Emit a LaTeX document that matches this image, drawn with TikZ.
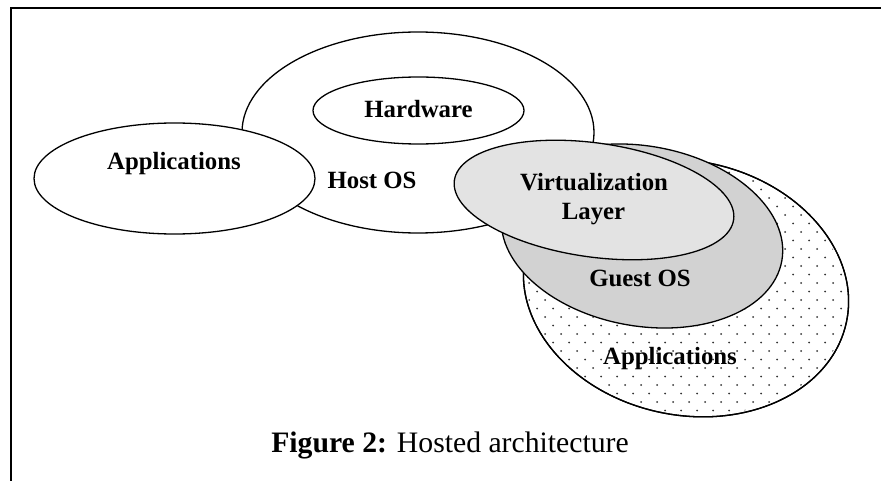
\documentclass[tikz,border=0pt]{standalone}
\usepackage{fontspec}
\setmainfont{Liberation Serif}
\definecolor{vlayer}{HTML}{E3E3E3}
\definecolor{guestos}{HTML}{D2D2D2}
\definecolor{dotcol}{HTML}{333333}
\begin{document}
\begin{tikzpicture}[x=1pt,y=-1pt,
  shapeline/.style={draw=black,line width=1.3pt},
  lbl/.style={anchor=base,inner sep=0pt,font=\fontsize{24.8}{29}\selectfont\bfseries},
  frameline/.style={line width=2.2pt}]
\useasboundingbox (0,0) rectangle (881,481);
% frame
\coordinate (ftl) at (11,8);
\coordinate (ftr) at (881,8);
\coordinate (fbl) at (11,481);
\draw[frameline] (ftr) -- (ftl) -- (fbl);
% Host OS
\draw[shapeline,fill=white] (418,132.5) ellipse [x radius=176, y radius=100.5];
% left Applications
\draw[shapeline,fill=white] (174.5,178.5) ellipse [x radius=140.5, y radius=55.5];
% Hardware
\draw[shapeline,fill=white] (418.5,110.5) ellipse [x radius=105.5, y radius=33.5];
% dotted Applications
\draw[shapeline,fill=white,rotate around={-12:(686,288)}] (686,288) ellipse [x radius=164, y radius=127];
\begin{scope}
  \clip[rotate around={-12:(686,288)}] (686,288) ellipse [x radius=162, y radius=125];
  \foreach \j in {0,...,31}{
    \foreach \i in {0,...,21}{
      \pgfmathsetmacro{\xx}{513+16*\i+8*mod(\j,2)}
      \pgfmathsetmacro{\yy}{164+8.5*\j}
      \fill[dotcol] (\xx,\yy) circle[radius=1.0];
    }
  }
\end{scope}
\draw[shapeline,rotate around={-12:(686,288)}] (686,288) ellipse [x radius=164, y radius=127];
% Guest OS
\draw[shapeline,fill=guestos,rotate around={-10:(642,236)}] (642,236) ellipse [x radius=142, y radius=90];
% Virtualization layer
\draw[shapeline,fill=vlayer,rotate around={-8:(594,200)}] (594,200) ellipse [x radius=141, y radius=57];
% labels
\node[lbl] (appl) at (174,170) {Applications};
\node[lbl] (hw) at (418.5,118) {Hardware};
\node[lbl] (host) at (372,189) {Host OS};
\node[lbl] (virt) at (594,191) {Virtualization};
\node[lbl] (layer) at (593.5,220) {Layer};
\node[lbl] (guest) at (640,287) {Guest OS};
\node[lbl] (appr) at (670,364) {Applications};
\node[anchor=base,inner sep=0pt,font=\fontsize{29.7}{34}\selectfont] (cap) at (450,452) {\textbf{Figure 2:} Hosted architecture};
\end{tikzpicture}
\end{document}
